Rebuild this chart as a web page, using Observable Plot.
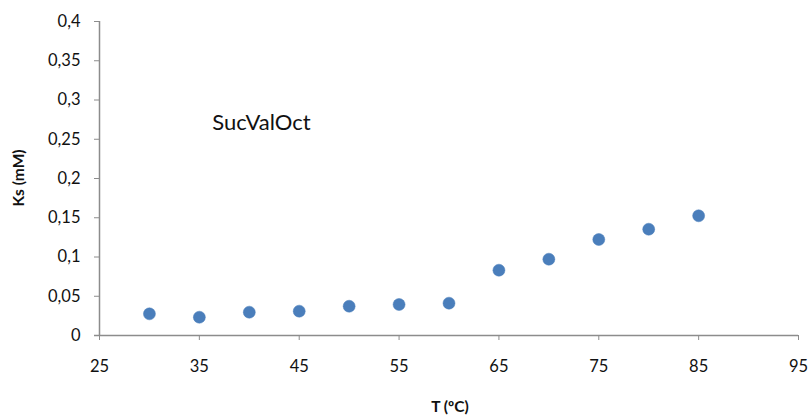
<!DOCTYPE html>
<html>
<head>
<meta charset="utf-8">
<script src="https://cdn.jsdelivr.net/npm/d3@7"></script>
<script src="https://cdn.jsdelivr.net/npm/@observablehq/plot@0.6"></script>
<style>
  body { margin: 0; background: #fff; }
  svg { display: block; }
</style>
</head>
<body>
<div id="chart"></div>
<script>
const temperatures = [30, 35, 40, 45, 50, 55, 60, 65, 70, 75, 80, 85];
const ksValues = [0.0276, 0.0233, 0.0297, 0.031, 0.0373, 0.0395, 0.0412, 0.0832, 0.0972, 0.1223, 0.1354, 0.1525];
const xTicks = [25, 35, 45, 55, 65, 75, 85, 95];
const yTicks = [0, 0.05, 0.1, 0.15, 0.2, 0.25, 0.3, 0.35, 0.4];
const annotation = [{x: 36.3, y: 0.2713, text: "SucValOct"}];

const data = temperatures.map((t, i) => ({t, ks: ksValues[i]}));
const fmt = v => String(+v.toFixed(2)).replace(".", ",");
const axisColor = "#8c8c8c";
const font = "Lato, 'Open Sans', sans-serif";

const chart = Plot.plot({
  width: 811,
  height: 416,
  marginLeft: 99,
  marginRight: 13,
  marginTop: 21,
  marginBottom: 81,
  style: {fontFamily: font, background: "#fff"},
  x: {domain: [25, 95]},
  y: {domain: [0, 0.4]},
  marks: [
    Plot.ruleY([0], {stroke: axisColor, strokeWidth: 1.5, x1: 25, x2: 95, insetLeft: -5}),
    Plot.ruleX([25], {stroke: axisColor, strokeWidth: 1.5, y1: 0, y2: 0.4}),
    Plot.axisY({ticks: yTicks, tickFormat: fmt, tickSize: 5, tickPadding: 14, stroke: axisColor, fill: "#111", fontSize: 16.5, label: null}),
    Plot.axisX({ticks: xTicks, tickFormat: d => String(d), tickSize: 5, tickPadding: 20, stroke: axisColor, fill: "#111", fontSize: 16.5, label: null}),
    Plot.dot(data, {x: "t", y: "ks", r: 6, fill: "#4a7ebb", stroke: "#4a7ebb", strokeWidth: 0.5}),
    Plot.text(annotation, {x: "x", y: "y", text: "text", textAnchor: "start", fontSize: 22, fill: "#111"})
  ]
});

const svg = d3.select(chart);
svg.append("text")
  .attr("transform", "translate(20,178) rotate(-90)")
  .attr("text-anchor", "middle")
  .attr("dominant-baseline", "middle")
  .attr("font-family", font)
  .attr("font-weight", "bold")
  .attr("font-size", 15.5)
  .attr("fill", "#111")
  .text("Ks (mM)");
svg.append("text")
  .attr("x", 450)
  .attr("y", 408)
  .attr("text-anchor", "middle")
  .attr("dominant-baseline", "middle")
  .attr("font-family", font)
  .attr("font-weight", "bold")
  .attr("font-size", 15.5)
  .attr("fill", "#111")
  .text("T (ºC)");

document.getElementById("chart").append(chart);
</script>
</body>
</html>
